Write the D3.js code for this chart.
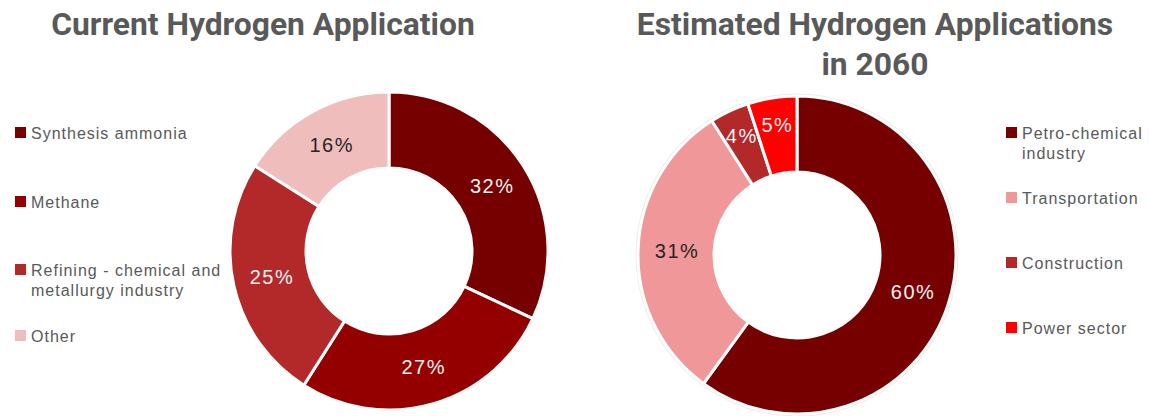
<!DOCTYPE html>
<html>
<head>
<script src="https://cdn.jsdelivr.net/npm/d3@7"></script>
<style>
body { margin: 0; background: #fff; }
.title { font-family: Roboto, sans-serif; font-weight: 700; font-size: 31.8px; fill: #595959; }
.legend text { font-family: "Liberation Sans", Arial, sans-serif; font-size: 16px; letter-spacing: 1px; fill: #595959; }
.pct { font-family: "Liberation Sans", Arial, sans-serif; font-size: 20px; letter-spacing: 1.5px; }
</style>
</head>
<body>
<svg width="1149" height="416"></svg>
<script>
// current application
var currentLabels = ["Synthesis ammonia", "Methane", "Refining - chemical and|metallurgy industry", "Other"];
var currentValues = [32, 27, 25, 16];
var currentColors = ["#760000", "#940000", "#b3292a", "#f0bdbd"];

// estimated 2060
var futureLabels = ["Petro-chemical|industry", "Transportation", "Construction", "Power sector"];
var futureValues = [60, 31, 4, 5];
var futureColors = ["#760000", "#ef9799", "#b3292a", "#ff0000"];

var svg = d3.select("svg");

function donut(opt) {
  var g = svg.append("g").attr("transform", "translate(" + opt.cx + "," + opt.cy + ")");
  var pie = d3.pie().sort(null).value(function(d) { return d; });
  var arc = d3.arc().innerRadius(83).outerRadius(159);
  var arcs = pie(opt.values);

  if (opt.ring) {
    g.append("circle").attr("r", 160.5).attr("fill", "none")
      .attr("stroke", "#ececec").attr("stroke-width", 2);
  }

  g.selectAll("path.slice")
    .data(arcs)
    .enter().append("path")
      .attr("class", "slice")
      .attr("d", arc)
      .attr("fill", function(d, i) { return opt.colors[i]; })
      .attr("stroke", "#fff")
      .attr("stroke-width", 3);

  g.selectAll("text.pct")
    .data(arcs)
    .enter().append("text")
      .attr("class", "pct")
      .attr("text-anchor", "middle")
      .attr("dy", "0.35em")
      .attr("transform", function(d) {
        var r = d.data < 8 ? 132 : 121;
        var a = (d.startAngle + d.endAngle) / 2;
        return "translate(" + (r * Math.sin(a) + 1) + "," + (-r * Math.cos(a)) + ")";
      })
      .attr("fill", function(d, i) { return opt.darkText.indexOf(i) >= 0 ? "#262626" : "#f2f2f2"; })
      .text(function(d) { return d.data + "%"; });

  var lg = svg.append("g").attr("class", "legend")
    .attr("transform", "translate(" + opt.lx + ",0)");
  opt.labels.forEach(function(lab, i) {
    var y = opt.ly[i];
    lg.append("rect").attr("x", 0).attr("y", y - 6).attr("width", 11).attr("height", 11)
      .attr("fill", opt.colors[i]);
    var t = lg.append("text").attr("x", 16).attr("y", y).attr("dy", "0.35em");
    lab.split("|").forEach(function(line, j) {
      t.append("tspan").attr("x", 16).attr("dy", j === 0 ? "0.35em" : "1.3em").text(line);
    });
  });
}

svg.append("text").attr("class", "title").attr("x", 263).attr("y", 35)
  .attr("text-anchor", "middle").text("Current Hydrogen Application");

var t2 = svg.append("text").attr("class", "title").attr("text-anchor", "middle");
t2.append("tspan").attr("x", 875).attr("y", 35).text("Estimated Hydrogen Applications");
t2.append("tspan").attr("x", 875).attr("y", 75).text("in 2060");

donut({ cx: 389, cy: 251, values: currentValues, colors: currentColors,
        labels: currentLabels, darkText: [3], ring: false,
        lx: 15, ly: [133, 202, 270, 336] });

donut({ cx: 797, cy: 255, values: futureValues, colors: futureColors,
        labels: futureLabels, darkText: [1], ring: true,
        lx: 1006, ly: [133, 198, 263, 328] });
</script>
</body>
</html>
